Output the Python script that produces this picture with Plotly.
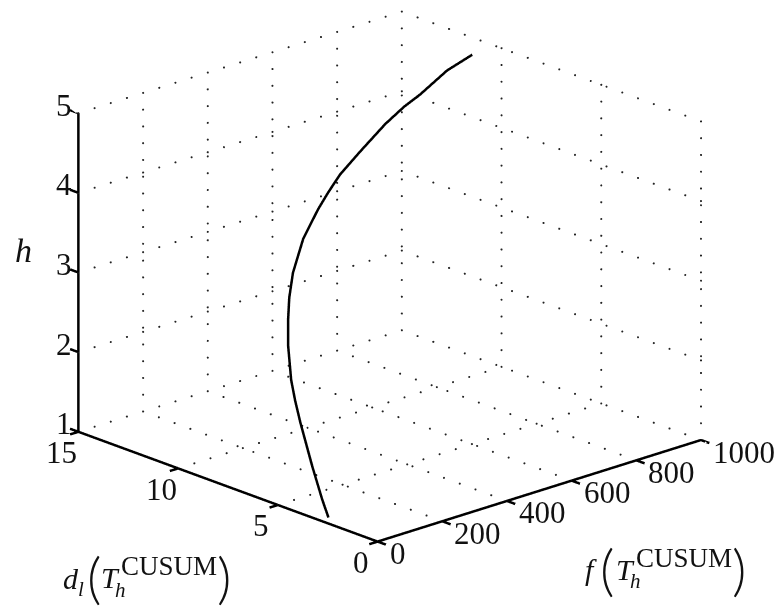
import plotly.graph_objects as go

f_vals = [27, 33, 40, 53, 62, 72, 100, 126, 153, 189, 253, 325, 369, 422, 501, 599, 670, 727, 826, 922]
d_vals = [2.90, 3.31, 3.92, 4.73, 5.14, 5.50, 6.11, 6.53, 6.91, 7.31, 7.83, 8.25, 8.47, 8.72, 9.00, 9.33, 9.53, 9.65, 9.91, 10.2]
h_vals = [1.00, 1.18, 1.53, 1.99, 2.22, 2.43, 2.78, 3.02, 3.23, 3.46, 3.76, 4.00, 4.13, 4.27, 4.43, 4.62, 4.73, 4.80, 4.95, 5.00]
f_ticks = [0, 200, 400, 600, 800, 1000]
d_ticks = [0, 5, 10, 15]
h_ticks = [1, 2, 3, 4, 5]
FONT = "Liberation Serif"
TICK_F = 26     # tick length expressed in f units
TICK_D = 0.42   # tick length expressed in d units

gx, gy, gz = [], [], []
def add(p0, p1, n):
    for k in range(n + 1):
        gx.append(p0[0] + (p1[0] - p0[0]) * k / n)
        gy.append(p0[1] + (p1[1] - p0[1]) * k / n)
        gz.append(p0[2] + (p1[2] - p0[2]) * k / n)

for f in f_ticks[1:]:
    add((f, 0, 1), (f, 15, 1), 19)
    add((f, 15, 1), (f, 15, 5), 19)
for d in d_ticks:
    if d > 0:
        add((0, d, 1), (1000, d, 1), 20)
    add((1000, d, 1), (1000, d, 5), 19)
for h in h_ticks[1:]:
    add((0, 15, h), (1000, 15, h), 20)
    add((1000, 0, h), (1000, 15, h), 19)

# axis lines and outward ticks
ax_x, ax_y, ax_z = [0, 1000, None, 0, 0, None, 0, 0, None], [0, 0, None, 0, 15, None, 15, 15, None], [1, 1, None, 1, 1, None, 1, 5, None]
for f in f_ticks:
    ax_x += [f, f, None]; ax_y += [0, -TICK_D, None]; ax_z += [1, 1, None]
for d in d_ticks:
    ax_x += [0, -TICK_F, None]; ax_y += [d, d, None]; ax_z += [1, 1, None]
for h in h_ticks:
    ax_x += [0, 0, None]; ax_y += [15, 15 + TICK_D, None]; ax_z += [h, h, None]

fig = go.Figure()
fig.add_trace(go.Scatter3d(x=gx, y=gy, z=gz, mode="markers",
                           marker=dict(size=1.2, color="#222222"), hoverinfo="skip"))
fig.add_trace(go.Scatter3d(x=ax_x, y=ax_y, z=ax_z, mode="lines",
                           line=dict(color="black", width=5), hoverinfo="skip"))
fig.add_trace(go.Scatter3d(x=f_vals, y=d_vals, z=h_vals, mode="lines",
                           line=dict(color="black", width=5)))

def ax(rng):
    return dict(range=rng, visible=False, autorange=False)

def note(x, y, z, text, xa="center", xs=0, ys=0):
    return dict(x=x, y=y, z=z, text=text, showarrow=False, xanchor=xa, yanchor="middle",
                xshift=xs, yshift=ys, font=dict(family=FONT, size=31, color="#111111"))

notes = []
for f in f_ticks:
    notes.append(note(f, 0, 1, str(f), "left", 10, -12))
for d in d_ticks:
    notes.append(note(0, d, 1, str(d), "center", -17, -21))
for h in h_ticks:
    notes.append(note(0, 15, h, str(h), "center", -14, 8))

def label(px, py, text, size, family=FONT, weight=None):
    fnt = dict(family=family, size=size, color="#111111")
    if weight:
        fnt["weight"] = weight
    return dict(xref="paper", yref="paper", x=px / 776, y=1 - py / 606, text=text, showarrow=False,
                xanchor="center", yanchor="middle", font=fnt)

labels = [
    label(23, 250, "<i>h</i>", 34),
    label(71, 578, "<i>d</i>", 30), label(81, 589, "<i>l</i>", 21),
    label(94, 576, "(", 56, "Lato", 300), label(110, 577, "<i>T</i>", 30),
    label(169, 566, "CUSUM", 27), label(120, 590, "<i>h</i>", 21), label(224, 576, ")", 56, "Lato", 300),
    label(591, 569, "<i>f</i>", 30),
    label(607, 568, "(", 56, "Lato", 300), label(625, 569, "<i>T</i>", 30),
    label(684, 558, "CUSUM", 27), label(635, 581, "<i>h</i>", 21), label(739, 568, ")", 56, "Lato", 300),
]

fig.update_layout(
    width=776, height=606, showlegend=False, paper_bgcolor="white",
    margin=dict(l=0, r=0, t=0, b=0), annotations=labels,
    scene=dict(
        domain=dict(x=[0, 1], y=[0, 1]),
        xaxis=ax([-TICK_F, 1000]), yaxis=ax([-TICK_D, 15 + TICK_D]), zaxis=ax([1, 5]),
        aspectmode="manual",
        aspectratio=dict(x=1.454 * (1000 + TICK_F) / 1000, y=1.454 * (15 + 2 * TICK_D) / 15, z=1.118),
        annotations=notes,
        camera=dict(projection=dict(type="orthographic"),
                    up=dict(x=0, y=0, z=1), center=dict(x=0.006, y=-0.0057, z=-0.088),
                    eye=dict(x=-1.283, y=-1.399, z=0.597)),
    ),
)
fig.write_html("out.html", config=dict(displayModeBar=False),
               post_script="document.body.style.margin='0';document.body.style.overflow='hidden';")
